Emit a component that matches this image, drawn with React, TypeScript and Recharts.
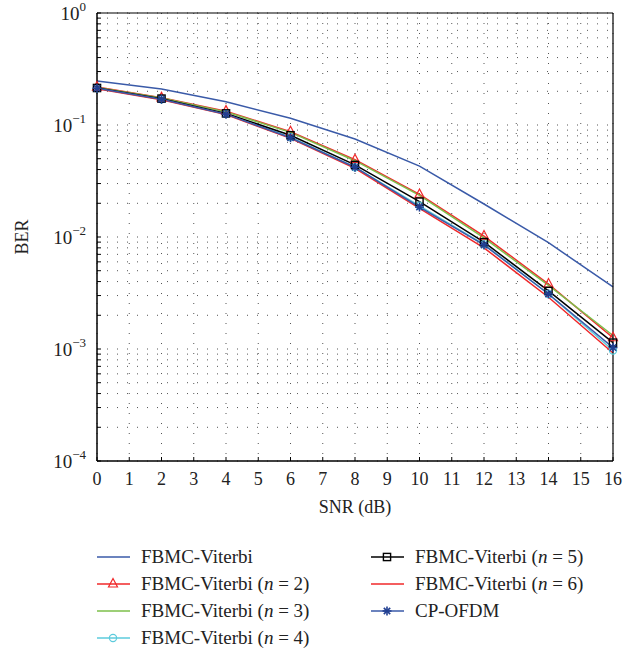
import React from "react";
import { LineChart, Line, XAxis, YAxis, CartesianGrid } from "recharts";

// SNR points (dB) where the curves were simulated
const snr = [0, 2, 4, 6, 8, 10, 12, 14, 16];

// BER values
const berViterbi = [0.247, 0.21, 0.161, 0.115, 0.075, 0.043, 0.0197, 0.0089, 0.00358];
const berN2 = [0.218, 0.175, 0.133, 0.087, 0.049, 0.024, 0.0102, 0.0038, 0.00126];
const berN3 = [0.216, 0.174, 0.131, 0.086, 0.048, 0.0235, 0.0098, 0.0037, 0.00132];
const berN4 = [0.213, 0.17, 0.126, 0.078, 0.042, 0.019, 0.0086, 0.0031, 0.00097];
const berN5 = [0.214, 0.172, 0.127, 0.081, 0.044, 0.0207, 0.009, 0.0033, 0.00114];
const berN6 = [0.211, 0.168, 0.124, 0.076, 0.041, 0.018, 0.008, 0.0029, 0.00092];
const berCpOfdm = [0.213, 0.17, 0.125, 0.077, 0.042, 0.0185, 0.0085, 0.0031, 0.00103];

const xTicks = [0, 1, 2, 3, 4, 5, 6, 7, 8, 9, 10, 11, 12, 13, 14, 15, 16];
const yDecades = [1e-4, 1e-3, 1e-2, 1e-1, 1];

// log minor ticks: 1..9 x each decade
const yTicks: number[] = [];
yDecades.forEach((d, i) => {
  if (i === yDecades.length - 1) {
    yTicks.push(d);
    return;
  }
  for (let m = 1; m <= 9; m++) yTicks.push(m * d);
});

const data = snr.map((s, i) => ({
  snr: s,
  viterbi: berViterbi[i],
  n2: berN2[i],
  n3: berN3[i],
  n4: berN4[i],
  n5: berN5[i],
  n6: berN6[i],
  cp: berCpOfdm[i],
}));

const FONT = "'Liberation Serif', 'Times New Roman', Times, 'DejaVu Serif', serif";

const BLUE = "#3a5aa8";
const RED = "#f0282a";
const GREEN = "#7cbf4a";
const CYAN = "#5ccbdc";
const STAR = "#213f92";

type Marker = "none" | "triangle" | "circle" | "square" | "star";

function drawMarker(kind: Marker, cx: number, cy: number, color: string, key?: any) {
  if (kind === "triangle")
    return (
      <polygon
        key={key}
        points={`${cx},${cy - 5.5} ${cx - 4.5},${cy + 3} ${cx + 4.5},${cy + 3}`}
        fill="none"
        stroke={color}
        strokeWidth={1.2}
      />
    );
  if (kind === "circle")
    return <circle key={key} cx={cx} cy={cy} r={3.6} fill="none" stroke={color} strokeWidth={1.2} />;
  if (kind === "square")
    return (
      <rect key={key} x={cx - 3.6} y={cy - 3.6} width={7.2} height={7.2} fill="none" stroke={color} strokeWidth={1.4} />
    );
  if (kind === "star") {
    const r = 4.5;
    const d = r * 0.707;
    return (
      <g key={key} stroke={color} strokeWidth={1.6}>
        <line x1={cx - r} y1={cy} x2={cx + r} y2={cy} />
        <line x1={cx} y1={cy - r} x2={cx} y2={cy + r} />
        <line x1={cx - d} y1={cy - d} x2={cx + d} y2={cy + d} />
        <line x1={cx - d} y1={cy + d} x2={cx + d} y2={cy - d} />
      </g>
    );
  }
  return <g key={key} />;
}

const series: { key: string; name: string; n?: string; color: string; marker: Marker; mcolor?: string }[] = [
  { key: "viterbi", name: "FBMC-Viterbi", color: BLUE, marker: "none" },
  { key: "n2", name: "FBMC-Viterbi", n: "2", color: RED, marker: "triangle" },
  { key: "n3", name: "FBMC-Viterbi", n: "3", color: GREEN, marker: "none" },
  { key: "n4", name: "FBMC-Viterbi", n: "4", color: CYAN, marker: "circle" },
  { key: "n5", name: "FBMC-Viterbi", n: "5", color: "#000000", marker: "square" },
  { key: "n6", name: "FBMC-Viterbi", n: "6", color: RED, marker: "none" },
  { key: "cp", name: "CP-OFDM", color: BLUE, marker: "star", mcolor: STAR },
];

const YTick = (props: any) => {
  const { x, y, payload } = props;
  const v = payload.value;
  const e = Math.round(Math.log10(v));
  if (Math.abs(v - Math.pow(10, e)) > Math.pow(10, e) * 1e-6) return <g />;
  const exp = e < 0 ? `\u2212${-e}` : `${e}`;
  return (
    <text x={x} y={y + 7} textAnchor="end" fontFamily={FONT} fontSize={19} fill="#222">
      <tspan>10</tspan>
      <tspan dy={-9} fontSize={13}>
        {exp}
      </tspan>
    </text>
  );
};

const legendLeft = [series[0], series[1], series[2], series[3]];
const legendRight = [series[4], series[5], series[6]];

function LegendRow({ s, x, y }: { s: (typeof series)[number]; x: number; y: number }) {
  return (
    <div style={{ position: "absolute", left: x, top: y - 14, height: 28, display: "flex", alignItems: "center" }}>
      <svg width={36} height={28} style={{ display: "block" }}>
        <line x1={1} y1={14} x2={34} y2={14} stroke={s.color} strokeWidth={1.5} />
        {drawMarker(s.marker, 17, 14, s.mcolor || s.color)}
      </svg>
      <span style={{ marginLeft: 9, fontFamily: FONT, fontSize: 19, color: "#222", whiteSpace: "nowrap" }}>
        {s.name}
        {s.n ? (
          <>
            {" ("}
            <i>n</i>
            {" = " + s.n + ")"}
          </>
        ) : null}
      </span>
    </div>
  );
}

export default function App() {
  return (
    <div style={{ position: "absolute", left: 0, top: 0, width: 629, height: 653, background: "#fff" }}>
      <LineChart width={629} height={530} data={data} margin={{ top: 12, right: 15, bottom: 9, left: 0 }}>
        <CartesianGrid stroke="#555" strokeDasharray="1 9" strokeWidth={1} />
        <XAxis
          dataKey="snr"
          type="number"
          domain={[0, 16]}
          ticks={xTicks}
          interval={0}
          height={60}
          tickSize={-4}
          tickMargin={15}
          axisLine={{ stroke: "#000", strokeWidth: 1.5 }}
          tickLine={{ stroke: "#000" }}
          tick={{ fontFamily: FONT, fontSize: 18, fill: "#222" }}
          label={{
            value: "SNR (dB)",
            position: "insideBottom",
            offset: 8,
            style: { fontFamily: FONT, fontSize: 18, fill: "#222" },
          }}
        />
        <XAxis
          xAxisId="top"
          orientation="top"
          dataKey="snr"
          type="number"
          domain={[0, 16]}
          ticks={xTicks}
          interval={0}
          height={1}
          tickSize={-4}
          tick={false}
          axisLine={{ stroke: "#000", strokeWidth: 1.2 }}
          tickLine={{ stroke: "#000" }}
        />
        <YAxis
          scale="log"
          domain={[1e-4, 1]}
          allowDataOverflow
          ticks={yTicks}
          interval={0}
          width={97}
          tickSize={-4}
          tickMargin={15}
          axisLine={{ stroke: "#000", strokeWidth: 1.5 }}
          tickLine={{ stroke: "#000" }}
          tick={<YTick />}
          label={{
            value: "BER",
            angle: -90,
            position: "insideLeft",
            offset: 22,
            style: { fontFamily: FONT, fontSize: 18, fill: "#222", textAnchor: "middle" },
          }}
        />
        <YAxis
          yAxisId="right"
          orientation="right"
          scale="log"
          domain={[1e-4, 1]}
          allowDataOverflow
          ticks={yTicks}
          interval={0}
          width={1}
          tickSize={-4}
          tick={false}
          axisLine={{ stroke: "#000", strokeWidth: 1.2 }}
          tickLine={{ stroke: "#000" }}
        />
        {series.map((s) => (
          <Line
            key={s.key}
            type="linear"
            dataKey={s.key}
            stroke={s.color}
            strokeWidth={1.5}
            isAnimationActive={false}
            activeDot={false}
            dot={(p: any) =>
              p.cx == null ? <g key={`${s.key}-${p.index}`} /> : drawMarker(s.marker, p.cx, p.cy, s.mcolor || s.color, `${s.key}-${p.index}`)
            }
          />
        ))}
      </LineChart>
      {legendLeft.map((s, i) => (
        <LegendRow key={s.key} s={s} x={96} y={557 + i * 27} />
      ))}
      {legendRight.map((s, i) => (
        <LegendRow key={s.key} s={s} x={370} y={557 + i * 27} />
      ))}
    </div>
  );
}
